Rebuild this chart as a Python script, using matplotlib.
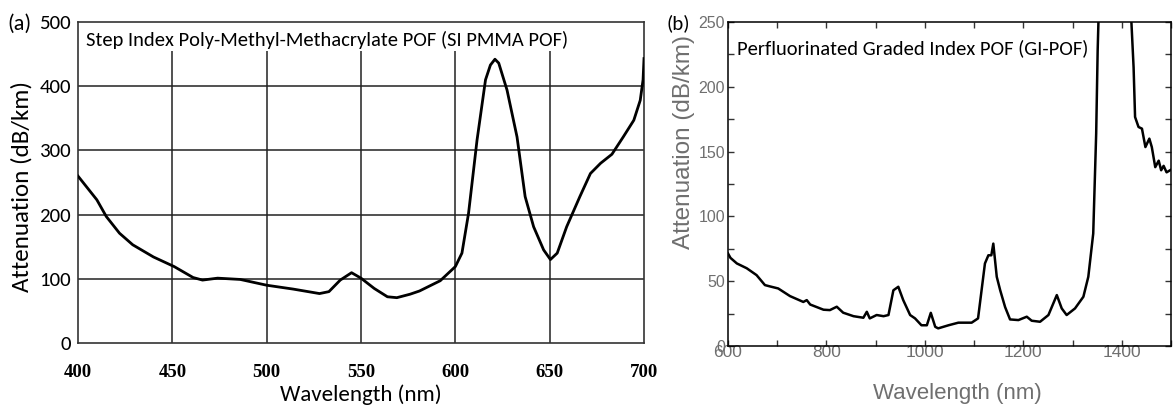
import matplotlib
matplotlib.use("Agg")
import matplotlib.pyplot as plt
from matplotlib import font_manager as fm

# ---------------- data ----------------
pmma_nm = [400, 410, 415, 422, 429, 440, 451, 461, 466, 474,
           486, 500, 514, 528, 533, 539, 545, 550, 557, 564,
           569, 576, 581, 592, 600, 603.5, 607, 611.5, 616, 618.6,
           621, 623, 627.4, 632.7, 637, 641.5, 646.8, 650.4, 654, 659,
           666, 671.6, 677, 683, 689, 694.6, 698, 699.5, 700]
pmma_att = [260, 223, 197, 171, 153, 134, 119, 102, 98, 101,
            99, 90, 84, 77, 80, 98, 109.5, 101, 85, 72,
            70.6, 76, 81, 97, 119, 140, 202, 316, 410, 433,
            442, 436, 394, 321, 228, 181, 145, 130, 140, 181,
            228, 264, 280, 294, 321, 347, 378, 410, 443]

gi_nm = [600, 605, 618, 638, 658, 675, 685, 702, 726, 753,
         760, 767, 794, 807, 821, 834, 855, 875, 882, 888,
         902, 916, 926, 936, 946, 956, 970, 980, 993, 1004,
         1012, 1021, 1027, 1048, 1068, 1095, 1108, 1122, 1129, 1135,
         1139, 1146, 1153, 1163, 1173, 1190, 1207, 1217, 1234, 1251,
         1268, 1278, 1288, 1305, 1322, 1332, 1342, 1348, 1351, 1354,
         1360, 1410, 1417, 1424, 1427, 1434, 1441, 1448, 1456, 1461,
         1468, 1475, 1480, 1485, 1491, 1500]
gi_att = [71.4, 68, 63.7, 60, 54.7, 47, 46, 44.4, 38.5, 34,
          35.4, 32, 28, 27.7, 30.3, 25.7, 23, 21.8, 26.4, 21.3,
          23.9, 23, 23.9, 43, 45.7, 35.4, 23.9, 21.3, 16, 16,
          25.6, 14.8, 13.6, 16, 18, 18, 21.3, 63.7, 70, 70,
          79, 53.4, 43, 30, 20.5, 20, 22.6, 19.5, 18.7, 23.9,
          39.3, 29, 23.9, 29, 38, 53.4, 86.8, 164, 228, 270,
          400, 400, 270, 215, 176.7, 169, 167.7, 153.5, 160, 153.5,
          138, 143, 135.6, 139, 134, 136]

pmma_xticks = [400, 450, 500, 550, 600, 650, 700]
pmma_yticks = [0, 100, 200, 300, 400, 500]
pmma_vgrid = [450, 500, 550, 600, 650]
pmma_hgrid = [100, 200, 300, 400]
gi_xticks = [600, 700, 800, 900, 1000, 1100, 1200, 1300, 1400, 1500]
gi_xlabels = ["600", "", "800", "", "1000", "", "1200", "", "1400", ""]
gi_yticks = [0, 25, 50, 75, 100, 125, 150, 175, 200, 225, 250]
gi_ylabels = ["0", "", "50", "", "100", "", "150", "", "200", "", "250"]

title_a = "Step Index Poly-Methyl-Methacrylate POF (SI PMMA POF)"
title_b = "Perfluorinated Graded Index POF (GI-POF)"

# ---------------- fonts ----------------
names = {f.name for f in fm.fontManager.ttflist}
cal = "Carlito" if "Carlito" in names else "Lato"
ari = "Liberation Sans"
ser = "Liberation Serif"

W, H = 1175, 413
fig = plt.figure(figsize=(W / 100, H / 100), dpi=100)

# ---------------- panel (a) ----------------
ax1 = fig.add_axes([78 / W, (H - 343) / H, 566 / W, 321 / H])
ax1.set_xlim(400, 700)
ax1.set_ylim(0, 500)
ax1.hlines(pmma_hgrid, 400, 700, color="#222222", lw=1.1, zorder=1)
ax1.vlines(pmma_vgrid, 0, 455, color="#222222", lw=1.1, zorder=1)
ax1.plot(pmma_nm, pmma_att, color="black", lw=2.0, zorder=3,
         solid_joinstyle="round")
for s in ax1.spines.values():
    s.set_color("#333333")
    s.set_linewidth(1.2)
ax1.set_xticks(pmma_xticks)
ax1.set_xticklabels([str(v) for v in pmma_xticks], fontfamily=ser,
                    fontweight="bold", fontsize=13.5)
ax1.set_yticks(pmma_yticks)
ax1.set_yticklabels([str(v) for v in pmma_yticks], fontfamily=cal,
                    fontsize=15)
ax1.tick_params(axis="x", length=0, pad=15)
ax1.tick_params(axis="y", length=0, pad=5)
ax1.text(0.014, (343 - 40) / 321, title_a, transform=ax1.transAxes,
         fontfamily=cal, fontsize=14.8, va="center", ha="left")
ax1.set_xlabel("Wavelength (nm)", fontfamily=cal, fontsize=16.5)
ax1.xaxis.set_label_coords(0.5, (343 - 395) / 321)
ax1.xaxis.label.set_va("center")
ax1.set_ylabel("Attenuation (dB/km)", fontfamily=cal, fontsize=18)
ax1.yaxis.set_label_coords((22 - 78) / 566, (343 - 186) / 321)
ax1.yaxis.label.set_va("center")
fig.text(7 / W, 1 - 24 / H, "(a)", fontfamily=cal, fontsize=16,
         va="center", ha="left")

# ---------------- panel (b) ----------------
gray = "#6f6f6f"
ax2 = fig.add_axes([728 / W, (H - 346) / H, 443 / W, 324 / H])
ax2.set_xlim(600, 1500)
ax2.set_ylim(0, 250)
ax2.plot(gi_nm, gi_att, color="black", lw=1.8, zorder=3)
for s in ax2.spines.values():
    s.set_color("black")
    s.set_linewidth(1.1)
ax2.set_xticks(gi_xticks)
ax2.set_xticklabels(gi_xlabels, fontfamily=ari, fontsize=12.5, color=gray)
ax2.set_yticks(gi_yticks)
ax2.set_yticklabels(gi_ylabels, fontfamily=ari, fontsize=11.5, color=gray)
ax2.tick_params(direction="in", top=True, right=True, length=4,
                width=1, color="#333333")
ax2.tick_params(axis="x", pad=-1)
ax2.tick_params(axis="y", pad=2)
ax2.text(0.02, (346 - 48) / 324, title_b, transform=ax2.transAxes,
         fontfamily=cal, fontsize=14.8, va="center", ha="left")
ax2.set_xlabel("Wavelength (nm)", fontfamily=ari, fontsize=16, color=gray)
ax2.xaxis.set_label_coords((957 - 728) / 443, (346 - 393) / 324)
ax2.xaxis.label.set_va("center")
ax2.set_ylabel("Attenuation (dB/km)", fontfamily=ari, fontsize=17.5,
               color=gray)
ax2.yaxis.set_label_coords((684 - 728) / 443, (346 - 142) / 324)
ax2.yaxis.label.set_va("center")
fig.text(667 / W, 1 - 23 / H, "(b)", fontfamily=cal, fontsize=15,
         va="center", ha="left")

fig.savefig("out.png", dpi=100)
